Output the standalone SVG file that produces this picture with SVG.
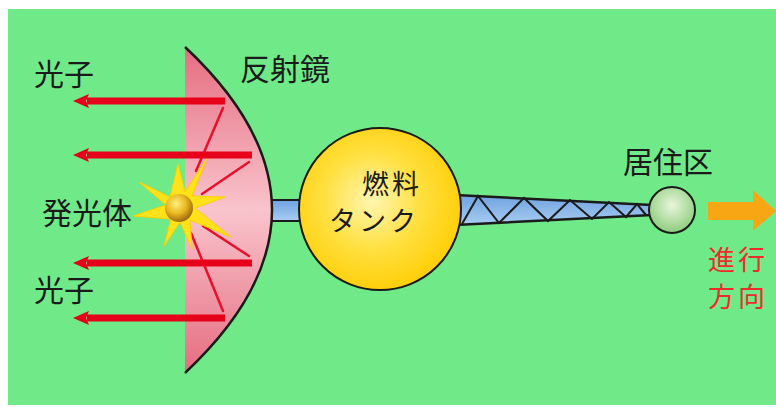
<svg xmlns="http://www.w3.org/2000/svg" width="776" height="407" viewBox="0 0 776 407">
  <style>
    .label { font-family: "Noto Sans CJK JP", "Noto Sans", sans-serif; font-size: 30px; fill: #1a1a1a; }
    .compact { font-size: 27px; letter-spacing: 3px; }
    .red-label { fill: #ee2b2b; }
    .photon { stroke: #e60019; stroke-width: 7; fill: none; marker-end: url(#photon-head); }
    .ray { stroke: #e8102a; stroke-width: 2.5; fill: none; stroke-linecap: round; }
    .outline { stroke: #1a1a1a; stroke-width: 2; }
  </style>
  <defs>
    <linearGradient id="mirror-fill" x1="0" y1="0" x2="0" y2="1">
      <stop offset="0" stop-color="#e56d80"/>
      <stop offset="0.5" stop-color="#f9c4cc"/>
      <stop offset="1" stop-color="#e56d80"/>
    </linearGradient>
    <radialGradient id="tank-fill" cx="0.45" cy="0.45" r="0.6">
      <stop offset="0" stop-color="#fff6b0"/>
      <stop offset="0.5" stop-color="#ffe040"/>
      <stop offset="1" stop-color="#ffcc00"/>
    </radialGradient>
    <radialGradient id="hab-fill" cx="0.5" cy="0.4" r="0.6">
      <stop offset="0" stop-color="#e8f6dc"/>
      <stop offset="1" stop-color="#8ccc7c"/>
    </radialGradient>
    <radialGradient id="ball-fill" cx="0.4" cy="0.35" r="0.65">
      <stop offset="0" stop-color="#fff080"/>
      <stop offset="0.55" stop-color="#e8b820"/>
      <stop offset="1" stop-color="#a06a10"/>
    </radialGradient>
    <linearGradient id="strut-fill" x1="0" y1="0" x2="0" y2="1">
      <stop offset="0" stop-color="#6fa2e0"/>
      <stop offset="1" stop-color="#a8cdf2"/>
    </linearGradient>
    <marker id="photon-head" viewBox="0 0 16 14" refX="2" refY="7" markerWidth="16" markerHeight="14" markerUnits="userSpaceOnUse" orient="auto">
      <path d="M0,0 L16,7 L0,14 L3,7 Z" fill="#e60019"/>
    </marker>
  </defs>

  <!-- background -->
  <rect x="0" y="0" width="776" height="407" fill="#ffffff"/>
  <rect x="8" y="9" width="768" height="396" fill="#70ea88"/>

  <!-- connectors -->
  <g id="connectors">
    <!-- short boom between mirror and tank -->
    <rect x="258" y="200" width="48" height="21" fill="url(#strut-fill)" class="outline"/>
    <!-- tapered truss from tank to habitat -->
    <g id="truss">
      <polygon points="455,195 652,205 652,215 455,225" fill="url(#strut-fill)" stroke="#1a1a1a" stroke-width="2.5" stroke-linejoin="round"/>
      <polyline points="462,224 478,196 499,223 524,198 548,221 570,200 592,219 609,202 626,217 637,204 646,215" fill="none" stroke="#1a1a1a" stroke-width="2"/>
    </g>
  </g>

  <!-- parabolic reflector -->
  <g id="reflector">
    <path d="M185,47 Q359,210 185,373 Z" fill="url(#mirror-fill)"/>
    <path d="M185,47 Q359,210 185,373" fill="none" stroke="#1a1a1a" stroke-width="2.5"/>
    <line class="ray" x1="196" y1="171" x2="223" y2="108"/>
    <line class="ray" x1="202" y1="194" x2="249" y2="162"/>
    <line class="ray" x1="203" y1="226" x2="249" y2="256"/>
    <line class="ray" x1="191" y1="233" x2="223" y2="311"/>
  </g>

  <!-- light source -->
  <g id="emitter">
    <polygon points="178,164 185,192 207,158 192,196 225,197 195,208 231,237 190,220 192,249 180,222 164,246 171,219 133,216 166,205 139,182 170,197" fill="#ffe21a" stroke="#ffd000" stroke-width="1" stroke-linejoin="round"/>
    <circle cx="179" cy="208" r="14" fill="url(#ball-fill)"/>
  </g>

  <!-- photons leaving the mirror -->
  <g id="photons">
    <line class="photon" x1="225" y1="101" x2="87" y2="101"/>
    <line class="photon" x1="252" y1="155" x2="87" y2="155"/>
    <line class="photon" x1="252" y1="263" x2="87" y2="263"/>
    <line class="photon" x1="225" y1="318" x2="87" y2="318"/>
  </g>

  <!-- fuel tank -->
  <g id="tank">
    <circle cx="380" cy="209" r="81" fill="url(#tank-fill)" class="outline"/>
    <text class="label compact" x="362" y="194">燃料</text>
    <text class="label compact" x="329" y="231">タンク</text>
  </g>

  <!-- habitat module -->
  <g id="habitat">
    <circle cx="672" cy="210" r="23" fill="url(#hab-fill)" class="outline"/>
    <text class="label" x="623" y="173">居住区</text>
  </g>

  <!-- direction of travel -->
  <g id="heading">
    <polygon points="708,202 753,202 753,190 776,211 753,231 753,220 708,220" fill="#f9a614"/>
    <text class="label compact red-label" x="708" y="270">進行</text>
    <text class="label compact red-label" x="708" y="307">方向</text>
  </g>

  <!-- labels -->
  <g id="labels">
    <text class="label" x="34" y="85">光子</text>
    <text class="label" x="34" y="301">光子</text>
    <text class="label" x="42" y="224">発光体</text>
    <text class="label" x="240" y="80">反射鏡</text>
  </g>
</svg>
